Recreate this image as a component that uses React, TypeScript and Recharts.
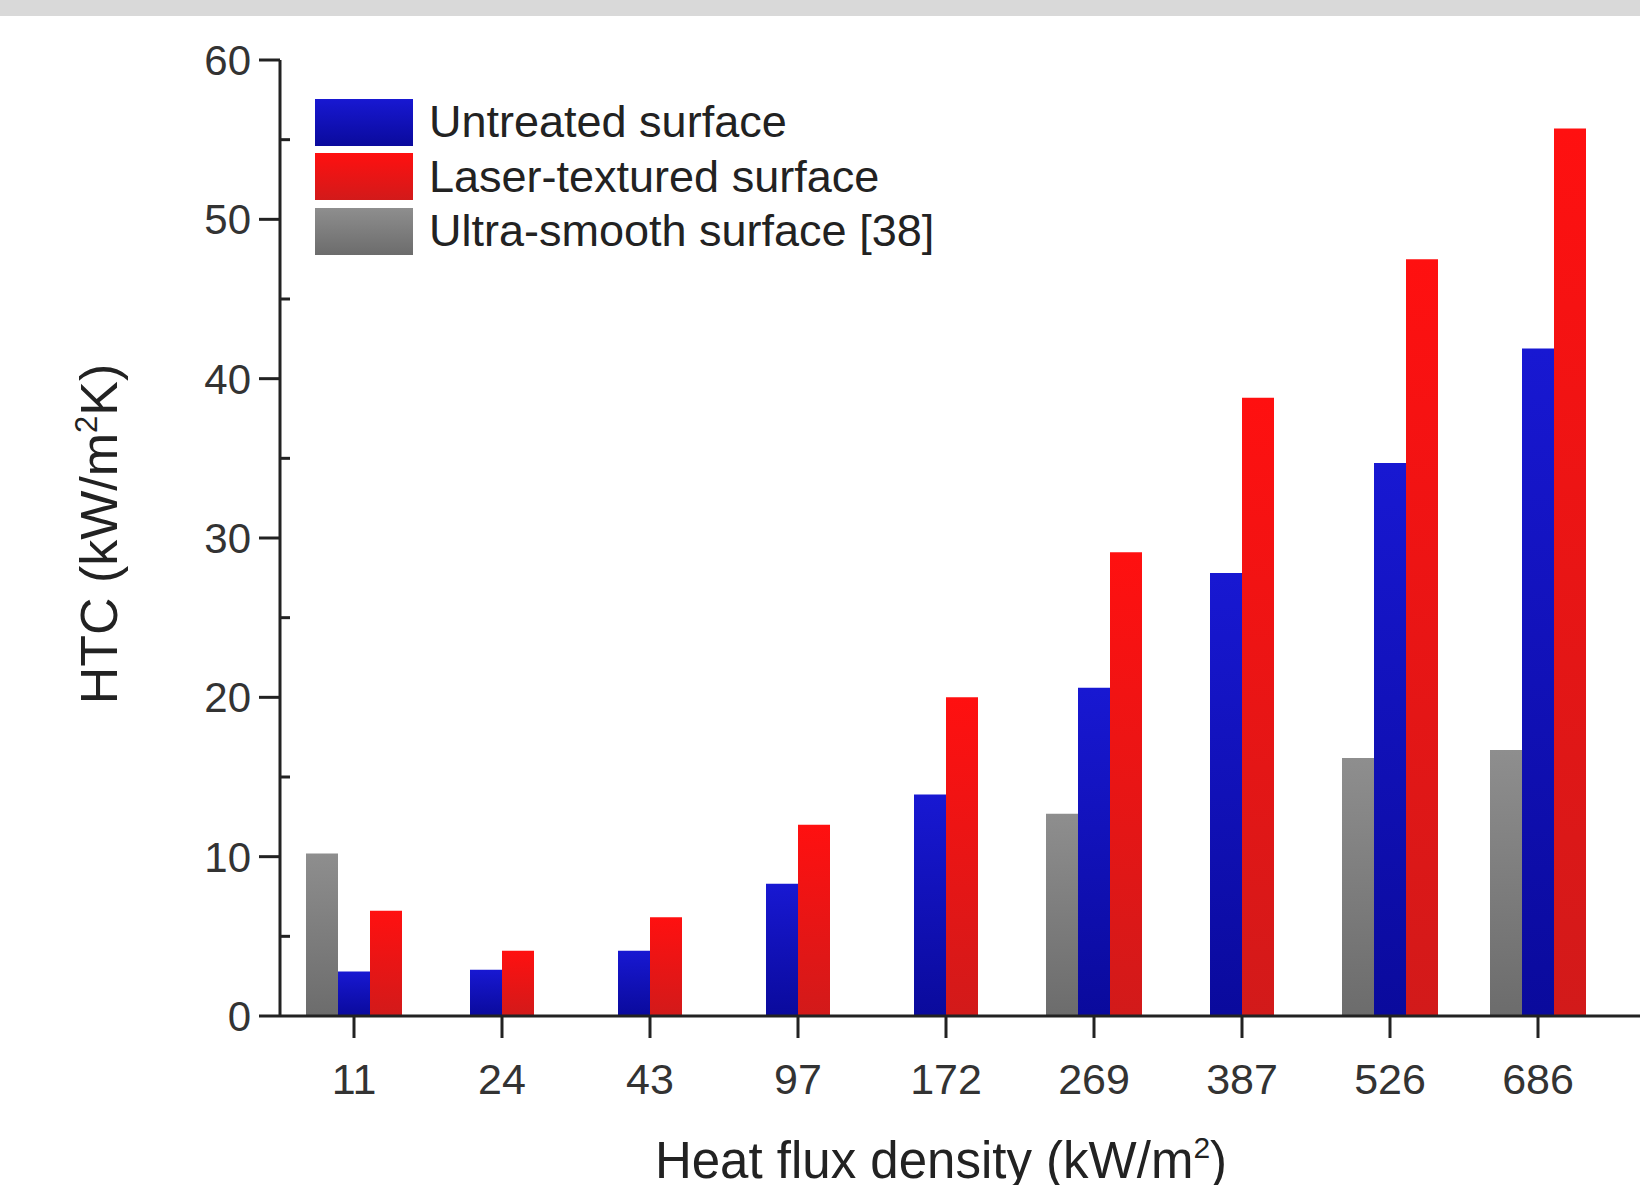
import { BarChart, Bar, XAxis, YAxis, Legend } from "recharts";

const FONT = '"Liberation Sans", Arial, sans-serif';
const INK = "#222";
const LABEL = "#333";

// heat flux density categories (kW/m2)
const fluxLabels = ["11", "24", "43", "97", "172", "269", "387", "526", "686"];
// HTC values (kW/m2K)
const untreated = [2.8, 2.9, 4.1, 8.3, 13.9, 20.6, 27.8, 34.7, 41.9];
const laserTextured = [6.6, 4.1, 6.2, 12.0, 20.0, 29.1, 38.8, 47.5, 55.7];
const ultraSmooth = [10.2, null, null, null, null, 12.7, null, 16.2, 16.7];

const yTicks = [0, 5, 10, 15, 20, 25, 30, 35, 40, 45, 50, 55, 60];
const rightTicks = [10, 20, 30, 40, 50];

const legendItems = [
  { name: "Untreated surface", top: "#1818d2", bottom: "#0a0a9c" },
  { name: "Laser-textured surface", top: "#ff1010", bottom: "#d21a1a" },
  { name: "Ultra-smooth surface [38]", top: "#8e8e8e", bottom: "#6c6c6c" },
];

// groups without the reference bar only hold two bars, so they sit on their own axis
const data = fluxLabels.map((flux, i) => {
  const hasRef = ultraSmooth[i] !== null;
  return {
    flux,
    smooth: ultraSmooth[i],
    untreated3: hasRef ? untreated[i] : null,
    laser3: hasRef ? laserTextured[i] : null,
    untreated2: hasRef ? null : untreated[i],
    laser2: hasRef ? null : laserTextured[i],
  };
});

const MAJOR = 21;
const MINOR = 10;

const LeftTick = ({ x, y, payload }: any) => {
  const v = payload.value;
  const axisX = x + MAJOR;
  if (v % 10 !== 0) {
    return <line x1={axisX} x2={axisX + MINOR} y1={y} y2={y} stroke={INK} strokeWidth={3} />;
  }
  return (
    <g>
      <line x1={x} x2={axisX} y1={y} y2={y} stroke={INK} strokeWidth={3} />
      <text x={x - 8} y={y} dy="0.355em" textAnchor="end" fontSize={42} fill={LABEL} fontFamily={FONT}>
        {v}
      </text>
    </g>
  );
};

const RightTick = ({ x, y }: any) => (
  <line x1={x - 12} x2={x} y1={y} y2={y} stroke={INK} strokeWidth={3} />
);

const YTitle = ({ viewBox }: any) => {
  const cx = viewBox.x + 117;
  const cy = viewBox.y + viewBox.height / 2 - 4;
  return (
    <text
      x={cx}
      y={cy}
      textAnchor="middle"
      fontSize={52}
      fill={INK}
      fontFamily={FONT}
      transform={`rotate(-90, ${cx}, ${cy})`}
    >
      HTC (kW/m
      <tspan dy={-20} fontSize={31}>2</tspan>
      <tspan dy={20}>K)</tspan>
    </text>
  );
};

const XTitle = ({ viewBox }: any) => {
  const cx = viewBox.x + viewBox.width / 2 - 24;
  const by = viewBox.y + 162;
  return (
    <text x={cx} y={by} textAnchor="middle" fontSize={51} fill={INK} fontFamily={FONT}>
      Heat flux density (kW/m
      <tspan dy={-20} fontSize={30}>2</tspan>
      <tspan dy={20}>)</tspan>
    </text>
  );
};

const renderLegend = () => (
  <div style={{ fontFamily: FONT }}>
    {legendItems.map((item) => (
      <div key={item.name} style={{ display: "flex", alignItems: "center", height: 54.5 }}>
        <div
          style={{
            width: 98,
            height: 47,
            background: `linear-gradient(${item.top}, ${item.bottom})`,
          }}
        />
        <span style={{ marginLeft: 16, fontSize: 45, color: INK, whiteSpace: "nowrap" }}>
          {item.name}
        </span>
      </div>
    ))}
  </div>
);

const App = () => {
  return (
    <div
      style={{
        position: "absolute",
        left: 0,
        top: 0,
        width: 1640,
        height: 1185,
        overflow: "hidden",
        background: "#fff",
        fontFamily: FONT,
      }}
    >
      <div
        style={{
          position: "absolute",
          left: 0,
          top: 0,
          width: 1640,
          height: 16,
          background: "#d9d9d9",
          zIndex: 5,
        }}
      />
      <BarChart
        width={1700}
        height={1185}
        data={data}
        margin={{ top: 60, right: 50, bottom: 0, left: 0 }}
        barGap={0}
        barSize={32}
      >
        <defs>
          {legendItems.map((item, i) => (
            <linearGradient key={i} id={`fill${i}`} x1="0" y1="0" x2="0" y2="1">
              <stop offset="0%" stopColor={item.top} />
              <stop offset="100%" stopColor={item.bottom} />
            </linearGradient>
          ))}
        </defs>
        <XAxis
          xAxisId="trio"
          dataKey="flux"
          height={169}
          padding={{ left: 0, right: 38 }}
          interval={0}
          axisLine={{ stroke: INK, strokeWidth: 3 }}
          tickLine={{ stroke: INK, strokeWidth: 3 }}
          tickSize={22}
          tickMargin={25}
          tick={{ fill: LABEL, fontSize: 43, fontFamily: FONT }}
          label={XTitle}
        />
        <XAxis xAxisId="pair" dataKey="flux" hide height={0} padding={{ left: 0, right: 38 }} />
        <XAxis
          xAxisId="top"
          orientation="top"
          height={0}
          tick={false}
          tickLine={false}
          axisLine={{ stroke: INK, strokeWidth: 3 }}
        />
        <YAxis
          width={280}
          domain={[0, 60]}
          ticks={yTicks}
          interval={0}
          tickSize={MAJOR}
          tickMargin={0}
          tickLine={false}
          axisLine={{ stroke: INK, strokeWidth: 3 }}
          tick={LeftTick}
          label={YTitle}
        />
        <YAxis
          yAxisId="right"
          orientation="right"
          width={0}
          domain={[0, 60]}
          ticks={rightTicks}
          interval={0}
          tickSize={0}
          tickMargin={0}
          tickLine={false}
          axisLine={{ stroke: INK, strokeWidth: 3 }}
          tick={RightTick}
        />
        <Legend
          layout="vertical"
          align="center"
          verticalAlign="middle"
          content={renderLegend}
          wrapperStyle={{ top: 95, left: 315, width: "auto" }}
        />
        <Bar xAxisId="trio" dataKey="smooth" name="Ultra-smooth surface [38]" fill="url(#fill2)" isAnimationActive={false} />
        <Bar xAxisId="trio" dataKey="untreated3" name="Untreated surface" fill="url(#fill0)" isAnimationActive={false} />
        <Bar xAxisId="trio" dataKey="laser3" name="Laser-textured surface" fill="url(#fill1)" isAnimationActive={false} />
        <Bar xAxisId="pair" dataKey="untreated2" name="Untreated surface" fill="url(#fill0)" isAnimationActive={false} />
        <Bar xAxisId="pair" dataKey="laser2" name="Laser-textured surface" fill="url(#fill1)" isAnimationActive={false} />
      </BarChart>
    </div>
  );
};

export default App;
